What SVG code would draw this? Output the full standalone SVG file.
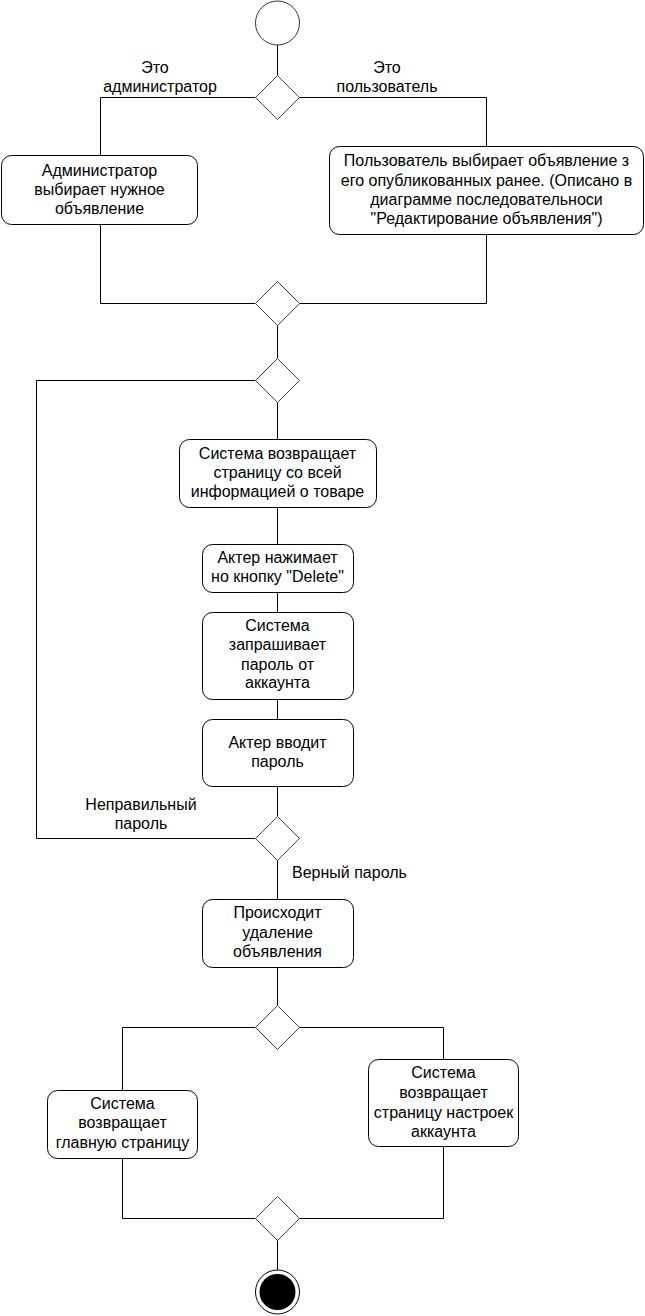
<svg xmlns="http://www.w3.org/2000/svg" width="645" height="1316" viewBox="0 0 645 1316">
<style>
.bg{fill:#fff}
.box{fill:#fff;stroke:#000;stroke-width:1}
.dia{fill:#fff;stroke:#444;stroke-width:1}
.ln{fill:none;stroke:#000;stroke-width:1}
text{font-family:"Liberation Sans",Arial,sans-serif;font-size:16px;fill:#000}
.c{text-anchor:middle}
</style>
<rect class="bg" x="0" y="0" width="645" height="1316"/>
<g id="connectors">
<path class="ln" d="M277.5 45V75"/>
<path class="ln" d="M255 97.5H100.5V155"/>
<path class="ln" d="M299 97.5H486.5V146"/>
<path class="ln" d="M100.5 224V303.5H255"/>
<path class="ln" d="M486.5 234V303.5H299"/>
<path class="ln" d="M277.5 325V358"/>
<path class="ln" d="M255 380.5H36.5V838.5H255"/>
<path class="ln" d="M277.5 402V439"/>
<path class="ln" d="M277.5 507V544"/>
<path class="ln" d="M277.5 592V612"/>
<path class="ln" d="M277.5 699V719"/>
<path class="ln" d="M277.5 786V816"/>
<path class="ln" d="M277.5 860V899"/>
<path class="ln" d="M277.5 967V1005"/>
<path class="ln" d="M255 1027.5H122.5V1090"/>
<path class="ln" d="M299 1027.5H443.5V1059"/>
<path class="ln" d="M122.5 1158V1218.5H255"/>
<path class="ln" d="M443.5 1146V1218.5H299"/>
<path class="ln" d="M277.5 1240V1270"/>
</g>
<g id="labels">
<text class="c" x="155" y="73">Это</text>
<text class="c" x="160" y="92">администратор</text>
<text class="c" x="387" y="73">Это</text>
<text class="c" x="387" y="92">пользователь</text>
<text class="c" x="141" y="810">Неправильный</text>
<text class="c" x="141" y="829">пароль</text>
<text x="292" y="878">Верный пароль</text>
</g>
<g id="start"><circle cx="277.5" cy="23" r="22" fill="#fff" stroke="#333" stroke-width="1"/></g>
<g id="d1"><path class="dia" d="M277.5 75.5L299.5 97.5L277.5 119.5L255.5 97.5Z"/></g>
<g id="admin">
<rect class="box" x="1.5" y="155.5" width="196" height="69" rx="10"/>
<text class="c" x="99.5" y="176">Администратор</text>
<text class="c" x="99.5" y="195">выбирает нужное</text>
<text class="c" x="99.5" y="214">объявление</text>
</g>
<g id="user">
<rect class="box" x="329.5" y="146.5" width="314" height="88" rx="10"/>
<text class="c" x="486.5" y="166">Пользователь выбирает объявление з</text>
<text class="c" x="486.5" y="186">его опубликованных ранее. (Описано в</text>
<text class="c" x="486.5" y="205">диаграмме последовательноси</text>
<text class="c" x="486.5" y="224">"Редактирование объявления")</text>
</g>
<g id="d2"><path class="dia" d="M277.5 281.5L299.5 303.5L277.5 325.5L255.5 303.5Z"/></g>
<g id="d3"><path class="dia" d="M277.5 358.5L299.5 380.5L277.5 402.5L255.5 380.5Z"/></g>
<g id="sys1">
<rect class="box" x="179.5" y="439.5" width="197" height="68" rx="10"/>
<text class="c" x="277.5" y="459">Система возвращает</text>
<text class="c" x="277.5" y="478">страницу со всей</text>
<text class="c" x="277.5" y="497">информацией о товаре</text>
</g>
<g id="actor1">
<rect class="box" x="202.5" y="544.5" width="151" height="48" rx="10"/>
<text class="c" x="277.5" y="563">Актер нажимает</text>
<text class="c" x="277.5" y="582">но кнопку "Delete"</text>
</g>
<g id="sys2">
<rect class="box" x="202.5" y="612.5" width="151" height="87" rx="10"/>
<text class="c" x="277.5" y="631">Система</text>
<text class="c" x="277.5" y="650">запрашивает</text>
<text class="c" x="277.5" y="670">пароль от</text>
<text class="c" x="277.5" y="688">аккаунта</text>
</g>
<g id="actor2">
<rect class="box" x="202.5" y="719.5" width="151" height="67" rx="10"/>
<text class="c" x="277.5" y="748">Актер вводит</text>
<text class="c" x="277.5" y="767">пароль</text>
</g>
<g id="d4"><path class="dia" d="M277.5 816.5L299.5 838.5L277.5 860.5L255.5 838.5Z"/></g>
<g id="del">
<rect class="box" x="202.5" y="899.5" width="151" height="68" rx="10"/>
<text class="c" x="277.5" y="918">Происходит</text>
<text class="c" x="277.5" y="938">удаление</text>
<text class="c" x="277.5" y="957">объявления</text>
</g>
<g id="d5"><path class="dia" d="M277.5 1005.5L299.5 1027.5L277.5 1049.5L255.5 1027.5Z"/></g>
<g id="main">
<rect class="box" x="47.5" y="1090.5" width="150" height="68" rx="10"/>
<text class="c" x="122.5" y="1109">Система</text>
<text class="c" x="122.5" y="1128">возвращает</text>
<text class="c" x="122.5" y="1148">главную страницу</text>
</g>
<g id="settings">
<rect class="box" x="368.5" y="1059.5" width="150" height="87" rx="10"/>
<text class="c" x="443.5" y="1078">Система</text>
<text class="c" x="443.5" y="1098">возвращает</text>
<text class="c" x="443.5" y="1118">страницу настроек</text>
<text class="c" x="443.5" y="1137">аккаунта</text>
</g>
<g id="d6"><path class="dia" d="M277.5 1196.5L299.5 1218.5L277.5 1240.5L255.5 1218.5Z"/></g>
<g id="end">
<circle cx="277.5" cy="1292" r="22" fill="#fff" stroke="#000" stroke-width="1"/>
<circle cx="277.5" cy="1292" r="18" fill="#000"/>
</g>
</svg>
